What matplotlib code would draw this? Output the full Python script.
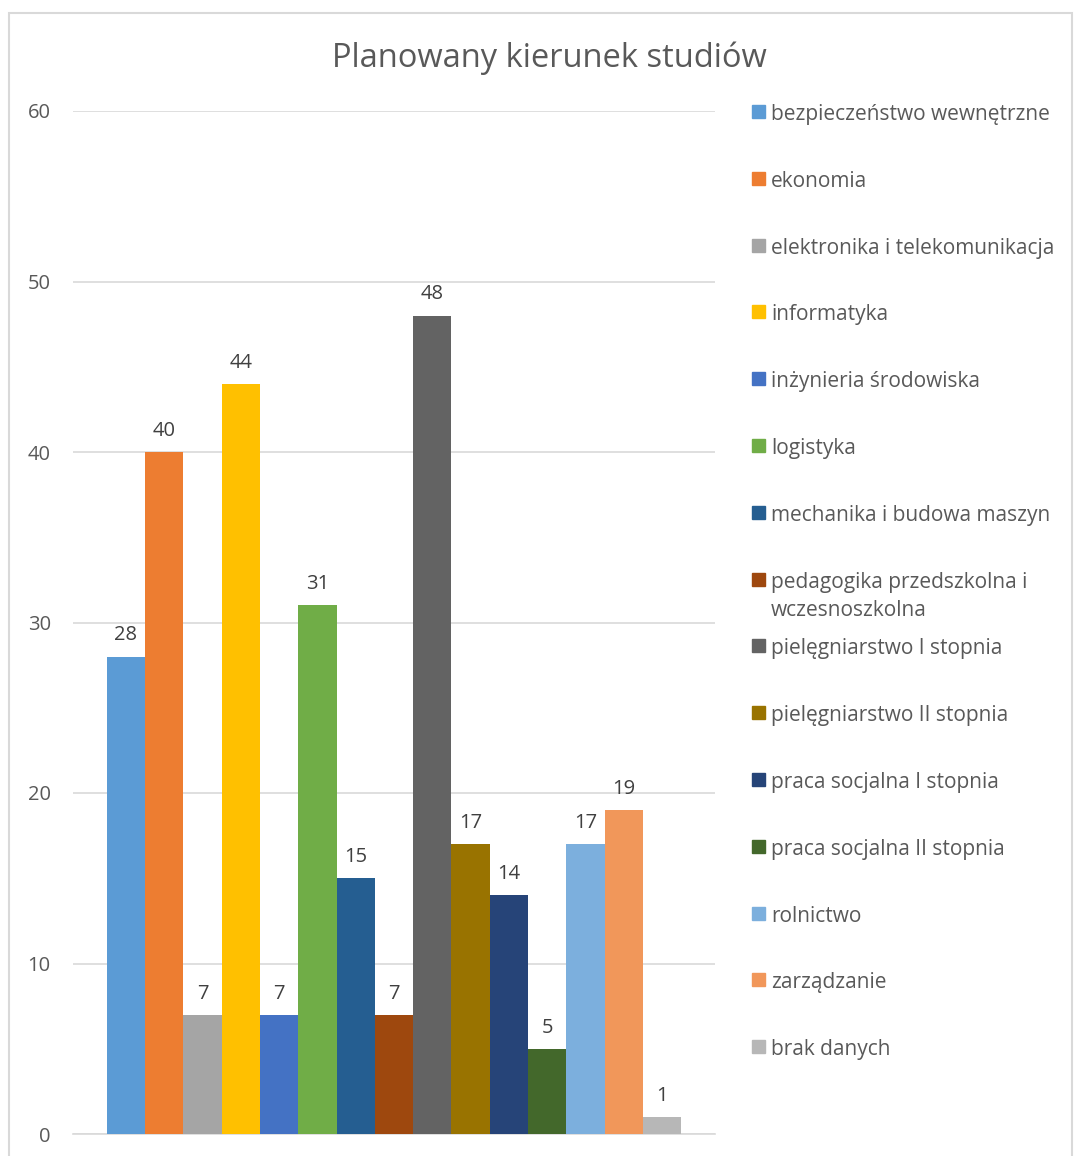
import numpy as np
import matplotlib.pyplot as plt
from matplotlib.patches import Rectangle

plt.rcParams['font.family'] = ['Open Sans', 'DejaVu Sans']

# data
kierunki = ['bezpieczeństwo wewnętrzne', 'ekonomia', 'elektronika i telekomunikacja',
            'informatyka', 'inżynieria środowiska', 'logistyka',
            'mechanika i budowa maszyn', 'pedagogika przedszkolna i\nwczesnoszkolna',
            'pielęgniarstwo I stopnia', 'pielęgniarstwo II stopnia',
            'praca socjalna I stopnia', 'praca socjalna II stopnia',
            'rolnictwo', 'zarządzanie', 'brak danych']
liczba = [28, 40, 7, 44, 7, 31, 15, 7, 48, 17, 14, 5, 17, 19, 1]
kolory = ['#5B9BD5', '#ED7D31', '#A5A5A5', '#FFC000', '#4472C4', '#70AD47',
          '#255E91', '#9E480E', '#636363', '#997300', '#264478', '#43682B',
          '#7CAFDD', '#F1975A', '#B7B7B7']

fig = plt.figure(figsize=(10.74, 11.56), dpi=100)

# chart border (cut at bottom like the reference)
fig.patches.append(Rectangle((9/1074, -0.05), 1063/1074, 1.05 - 13/1156,
                             transform=fig.transFigure, fill=False,
                             edgecolor='#D9D9D9', linewidth=1.5))

ax = fig.add_axes([73/1074, 1 - 1134/1156, 642/1074, 1023/1156])
x = np.arange(len(liczba))
bars = ax.bar(x, liczba, width=1.0, color=kolory, zorder=3)
ax.bar_label(bars, padding=8, fontsize=14.5, color='#404040')

ax.set_xlim(-1.38, 15.38)
ax.set_ylim(0, 60)
ax.set_yticks(range(0, 61, 10))
ax.set_xticks([])
ax.yaxis.grid(True, color='#D9D9D9', linewidth=1.2, zorder=0)
for s in ['top', 'right', 'left']:
    ax.spines[s].set_visible(False)
ax.spines['bottom'].set_color('#D9D9D9')
ax.spines['bottom'].set_linewidth(1.2)
ax.tick_params(axis='y', length=0, pad=16, labelsize=14.5, labelcolor='#595959')

fig.text(549/1074, 1 - 58/1156, 'Planowany kierunek studiów', ha='center', va='center',
         fontsize=23.5, color='#595959')

# legend
for i, (lab, kol) in enumerate(zip(kierunki, kolory)):
    yc = 1 - (112 + i * 66.8) / 1156
    fig.patches.append(Rectangle((752/1074, yc - 6/1156), 13/1074, 13/1156,
                                 transform=fig.transFigure, color=kol))
    fig.text(771/1074, yc + 8/1156, lab, ha='left', va='top', fontsize=15,
             color='#595959', linespacing=1.45)

fig.savefig('out.png', dpi=100)
